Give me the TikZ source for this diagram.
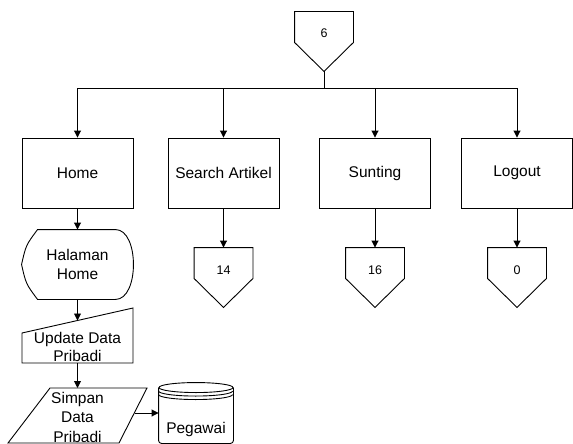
\documentclass[tikz,border=0pt]{standalone}
\usepackage{fontspec}
\setmainfont{Liberation Sans}
\usetikzlibrary{arrows.meta,calc}
\begin{document}
\begin{tikzpicture}[x=1pt,y=-1pt,line width=0.9pt,
  arr/.style={-{Triangle[length=7pt,width=7pt]}},
  mainfont/.style={font=\fontsize{15.5pt}{18.5pt}\selectfont},
  lbl/.style={mainfont, align=center, inner sep=0pt},
  procbox/.style={draw, mainfont, minimum width=111pt, minimum height=70pt, inner sep=0pt},
  offpage/.style={inner sep=0pt, minimum width=58pt, text height=26pt, text depth=33pt,
    font=\fontsize{12.5pt}{14pt}\selectfont},
]
\useasboundingbox (0,0) rectangle (573,444);

% off-page connectors
\node[offpage] (c6)  at (324,41.5)  {6};
\node[offpage] (c14) at (223.5,277.5) {14};
\node[offpage] (c16) at (375,277.5) {16};
\node[offpage] (c0)  at (517,277.5) {0};
\foreach \n in {c6,c14,c16,c0}
  \draw (\n.north west) -- ([yshift=29pt]\n.south west) -- (\n.south)
        -- ([yshift=29pt]\n.south east) -- (\n.north east) -- cycle;

% menu boxes
\node[procbox] (home)   at (77.5,173)  {Home};
\node[procbox] (search) at (223.5,173) {Search Artikel};
\node[procbox] (sunt)   at (375,173)   {Sunting};
\node[procbox] (logout) at (517,173)   {Logout};

% branching from the connector
\coordinate (bus) at (324,88);
\draw (c6.south) -- (bus);
\draw[arr] (bus) -| (home.north);
\draw[arr] (bus) -| (search.north);
\draw[arr] (bus) -| (sunt.north);
\draw[arr] (bus) -| (logout.north);

\draw[arr] (search.south) -- (c14.north);
\draw[arr] (sunt.south) -- (c16.north);
\draw[arr] (logout.south) -- (c0.north);

% display: Halaman Home
\node[lbl, minimum width=111pt, minimum height=69pt] (hal) at (77.5,264.5) {Halaman\\Home};
\draw ([xshift=16pt]hal.north west) -- ([xshift=-18pt]hal.north east)
  .. controls ([xshift=6pt]hal.north east) and ([xshift=6pt]hal.south east)
  .. ([xshift=-18pt]hal.south east) -- ([xshift=16pt]hal.south west)
  .. controls ([xshift=4.4pt,yshift=15.6pt]hal.south west) .. (hal.west)
  .. controls ([xshift=4.4pt,yshift=-15.6pt]hal.north west) .. cycle;
\draw[arr] (home.south) -- (hal.north);

% manual input: Update Data Pribadi
\node[lbl] (upd) at (77.5,347) {Update Data\\Pribadi};
\draw ($(upd.center)+(-55.5pt,14pt)$) -- ($(upd.center)+(55.5pt,39pt)$)
  -- ($(upd.center)+(55.5pt,-16pt)$) -- ($(upd.center)+(-55.5pt,-16pt)$) -- cycle;
\draw[arr] (hal.south) -- ($(upd.center)+(0,26.5pt)$);

% data: Simpan Data Pribadi
\node[lbl, font=\fontsize{15.5pt}{19.5pt}\selectfont] (simp) at (77.5,417) {Simpan\\Data\\Pribadi};
\draw ($(simp.center)+(-27.5pt,29pt)$) -- ($(simp.center)+(69.5pt,29pt)$)
  -- ($(simp.center)+(41.5pt,-26pt)$) -- ($(simp.center)+(-69.5pt,-26pt)$) -- cycle;
\draw[arr] ($(upd.center)+(0,-16pt)$) -- ($(simp.center)+(0,29pt)$);

% database: Pegawai
\node[mainfont, inner sep=0pt, minimum width=74pt, text height=50.5pt, text depth=9.5pt] (pg) at (196,413) {Pegawai};
\draw[rounded corners=3pt] ([yshift=-5pt]pg.north west) -- (pg.south west)
  -- (pg.south east) -- ([yshift=-5pt]pg.north east);
\draw ([yshift=-5pt]pg.north) ellipse [x radius=37pt, y radius=5pt];
\draw ([yshift=-8.5pt]pg.north west) arc [start angle=180, end angle=360, x radius=37pt, y radius=5pt];
\draw ([yshift=-12pt]pg.north west) arc [start angle=180, end angle=360, x radius=37pt, y radius=5pt];
\draw[arr] ($(simp.center)+(57pt,4pt)$) -- (pg.west);
\end{tikzpicture}
\end{document}
